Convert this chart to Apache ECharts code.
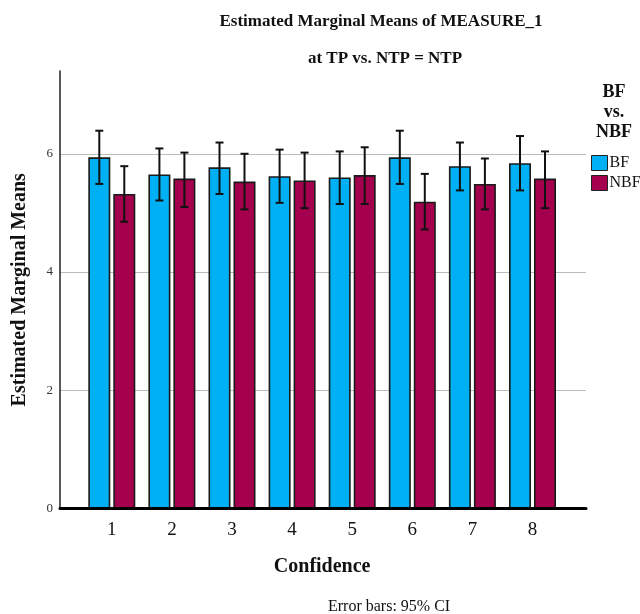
<!DOCTYPE html>
<html>
<head>
<meta charset="utf-8">
<script src="https://cdn.jsdelivr.net/npm/echarts@6/dist/echarts.min.js"></script>
<style>
  html, body { margin: 0; padding: 0; background: #fff; }
  #chart { width: 640px; height: 614px; }
</style>
</head>
<body>
<div id="chart"></div>
<script>
// Confidence levels on the x axis
const categories = ['1', '2', '3', '4', '5', '6', '7', '8'];

// Estimated marginal means with 95% CI bounds
const bfMeans  = [5.94, 5.65, 5.77, 5.62, 5.60, 5.94, 5.79, 5.84];
const bfLower  = [5.49, 5.21, 5.32, 5.17, 5.15, 5.49, 5.38, 5.38];
const bfUpper  = [6.39, 6.09, 6.19, 6.07, 6.04, 6.39, 6.19, 6.30];
const nbfMeans = [5.32, 5.58, 5.53, 5.55, 5.64, 5.19, 5.49, 5.58];
const nbfLower = [4.85, 5.10, 5.06, 5.08, 5.15, 4.72, 5.06, 5.08];
const nbfUpper = [5.79, 6.02, 6.00, 6.02, 6.11, 5.66, 5.92, 6.04];

const yTicks = [0, 2, 4, 6];

const SERIF = '"Liberation Serif", "Times New Roman", serif';
const BAR_W = 22;
const GAP_RATIO = 0.136;
const HALF_STEP = (BAR_W + BAR_W * GAP_RATIO) / 2;
const Y_MAX = 7.4;
const GRID_COLOR = '#bcbcbc';

const chart = echarts.init(document.getElementById('chart'), null, { renderer: 'canvas' });

function errorBars(lower, upper, shift) {
  return {
    type: 'custom',
    xAxisIndex: 1,
    yAxisIndex: 1,
    z: 4,
    silent: true,
    data: categories.map((c, i) => [i, lower[i], upper[i]]),
    encode: { x: 0, y: [1, 2] },
    renderItem: function (params, api) {
      const i = api.value(0);
      const top = api.coord([i, api.value(2)]);
      const bot = api.coord([i, api.value(1)]);
      const x = top[0] + shift;
      const cap = 4;
      const style = { stroke: '#111', lineWidth: 2 };
      return {
        type: 'group',
        children: [
          { type: 'line', shape: { x1: x, y1: top[1], x2: x, y2: bot[1] }, style: style },
          { type: 'line', shape: { x1: x - cap, y1: top[1], x2: x + cap, y2: top[1] }, style: style },
          { type: 'line', shape: { x1: x - cap, y1: bot[1], x2: x + cap, y2: bot[1] }, style: style }
        ]
      };
    }
  };
}

const option = {
  backgroundColor: '#ffffff',
  animation: false,
  title: [
    {
      text: 'Estimated Marginal Means of MEASURE_1',
      left: 376, top: 8, textAlign: 'center',
      textStyle: { fontFamily: SERIF, fontWeight: 'bold', fontSize: 17, color: '#111' }
    },
    {
      text: 'at TP vs. NTP = NTP',
      left: 380, top: 45, textAlign: 'center',
      textStyle: { fontFamily: SERIF, fontWeight: 'bold', fontSize: 17, color: '#111' }
    },
    {
      text: 'BF\nvs.\nNBF',
      left: 609, top: 77, textAlign: 'center',
      textStyle: { fontFamily: SERIF, fontWeight: 'bold', fontSize: 18, lineHeight: 20, color: '#111' }
    },
    {
      text: 'Error bars: 95% CI',
      left: 323, top: 594,
      textStyle: { fontFamily: SERIF, fontWeight: 'normal', fontSize: 16, color: '#111' }
    }
  ],
  legend: {
    orient: 'vertical',
    left: 586, top: 150,
    itemWidth: 16, itemHeight: 15, itemGap: 4,
    icon: 'rect',
    data: ['BF', 'NBF'],
    itemStyle: { borderColor: '#222', borderWidth: 1 },
    textStyle: { fontFamily: SERIF, fontSize: 16, color: '#111', padding: [0, 0, 0, -3] }
  },
  grid: [
    { left: 60, right: 54, top: 71, bottom: 105.5, containLabel: false },
    { left: 81.75, width: 480.8, top: 71, bottom: 105.5, containLabel: false }
  ],
  xAxis: [
    {
      type: 'value', gridIndex: 0, min: 0, max: 1, z: 6,
      axisLine: { show: true, lineStyle: { color: '#000', width: 3 } },
      axisTick: { show: false }, axisLabel: { show: false }, splitLine: { show: false }
    },
    {
      type: 'category', gridIndex: 1, data: categories,
      axisLine: { show: false }, axisTick: { show: false },
      axisLabel: { fontFamily: SERIF, fontSize: 19, color: '#111', margin: 12 },
      name: 'Confidence', nameLocation: 'middle', nameGap: 48,
      nameTextStyle: { fontFamily: SERIF, fontWeight: 'bold', fontSize: 20, color: '#111' }
    }
  ],
  yAxis: [
    {
      type: 'value', gridIndex: 0, min: 0, max: Y_MAX, interval: 2,
      axisLine: { show: true, onZero: false, lineStyle: { color: '#222', width: 1.5 } },
      axisTick: { show: false },
      axisLabel: {
        fontFamily: SERIF, fontSize: 13, color: '#333', margin: 7,
        formatter: function (v) { return yTicks.indexOf(v) >= 0 ? String(v) : ''; }
      },
      // lines at 0, 2, 4, 6 are drawn; the extent line at the top is left blank
      splitLine: {
        show: true,
        lineStyle: { color: [GRID_COLOR, GRID_COLOR, GRID_COLOR, GRID_COLOR, 'rgba(0,0,0,0)'], width: 1 }
      },
      name: 'Estimated Marginal Means', nameLocation: 'middle', nameGap: 30,
      nameTextStyle: { fontFamily: SERIF, fontWeight: 'bold', fontSize: 20, color: '#111' }
    },
    {
      type: 'value', gridIndex: 1, min: 0, max: Y_MAX, interval: 2, show: false,
      splitLine: { show: false }
    }
  ],
  series: [
    {
      name: 'BF', type: 'bar', xAxisIndex: 1, yAxisIndex: 1,
      barWidth: BAR_W, barGap: (GAP_RATIO * 100) + '%',
      data: bfMeans,
      itemStyle: { color: '#00b0f5', borderColor: '#1a1a1a', borderWidth: 1.6 }
    },
    {
      name: 'NBF', type: 'bar', xAxisIndex: 1, yAxisIndex: 1,
      barWidth: BAR_W,
      data: nbfMeans,
      itemStyle: { color: '#a5004d', borderColor: '#1a1a1a', borderWidth: 1.6 }
    },
    errorBars(bfLower, bfUpper, -HALF_STEP),
    errorBars(nbfLower, nbfUpper, HALF_STEP)
  ]
};

chart.setOption(option);
</script>
</body>
</html>
